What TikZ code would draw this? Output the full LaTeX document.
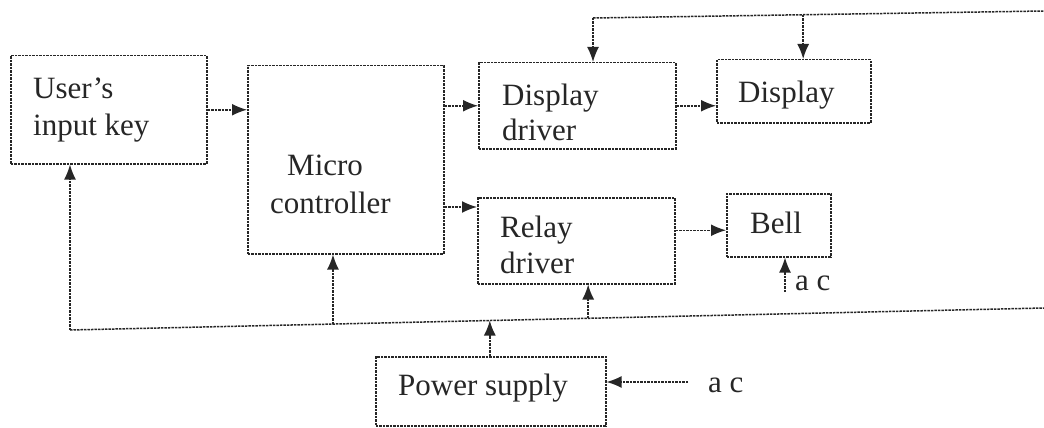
\documentclass[tikz,border=0pt]{standalone}
\usepackage{fontspec}
\setmainfont{Liberation Serif}
\usetikzlibrary{arrows.meta,calc}
\begin{document}
\begin{tikzpicture}[x=1pt,y=-1pt,
  box/.style={draw=black!85, line width=1.5pt, dash pattern=on 2.5pt off 1pt, rectangle, inner sep=0pt, anchor=north west},
  wire/.style={draw=black!85, line width=1.5pt, dash pattern=on 2.5pt off 1pt},
  arr/.style={wire, -{Latex[length=15pt,width=12pt]}},
  txt/.style={anchor=base west, inner sep=0pt, text=black!85, font=\fontsize{31}{37}\selectfont}]
\useasboundingbox (0,0) rectangle (1044,428);
% boxes
\node[box, minimum width=196pt, minimum height=108pt] (uik) at (10,55) {};
\node[box, minimum width=196pt, minimum height=188pt] (mc) at (247,65) {};
\node[box, minimum width=197pt, minimum height=86pt] (dd) at (478,62) {};
\node[box, minimum width=154pt, minimum height=63pt] (dsp) at (716,59) {};
\node[box, minimum width=197pt, minimum height=86pt] (rd) at (477,197) {};
\node[box, minimum width=104pt, minimum height=63pt] (bell) at (726,193) {};
\node[box, minimum width=230pt, minimum height=69pt] (ps) at (375,356) {};
% texts
\node[txt] (t1) at (33,98) {User’s};
\node[txt] (t2) at (33,135) {input key};
\node[txt] (t3) at (287,175) {Micro};
\node[txt] (t4) at (270,213) {controller};
\node[txt] (t5) at (502,105) {Display};
\node[txt] (t6) at (502,140) {driver};
\node[txt] (t7) at (738,102) {Display};
\node[txt] (t8) at (500,237) {Relay};
\node[txt] (t9) at (500,273) {driver};
\node[txt] (t10) at (750,233) {Bell};
\node[txt] (t11) at (398,395) {Power supply};
\node[txt] (ac1) at (795,290) {a c};
\node[txt] (ac2) at (708,392) {a c};
% horizontal connectors
\draw[arr] (uik.east) -- (uik.east -| mc.west);
\draw[arr] (dd.west -| mc.east) -- (dd.west);
\coordinate (rin) at ($(rd.north west)+(0,10)$);
\draw[arr] (rin -| mc.east) -- (rin);
\draw[arr] (dd.east) -- (dd.east -| dsp.west);
\coordinate (bin) at ($(bell.west)+(0,5)$);
\draw[arr] (bin -| rd.east) -- (bin);
% top line
\coordinate (tl) at (593,18);
\coordinate (tr) at (1044,11);
\coordinate (tm) at ($(tl)!0.466!(tr)$);
\draw[wire] (tl) -- (tr);
\draw[arr] (tl) -- (tl |- dd.north);
\draw[arr] (tm) -- (tm |- dsp.north);
% bus
\coordinate (bl) at (70,330);
\coordinate (br) at (1044,308);
\coordinate (j1) at ($(bl)!0.270!(br)$);
\coordinate (j2) at ($(bl)!0.431!(br)$);
\coordinate (j3) at ($(bl)!0.532!(br)$);
\draw[wire] (bl) -- (br);
\draw[arr] (bl) -- (bl |- uik.south);
\draw[arr] (j1) -- (j1 |- mc.south);
\draw[arr] (j3) -- (j3 |- rd.south);
\draw[arr] (j2 |- ps.north) -- (j2);
% a c inputs
\coordinate (bac) at (785,292);
\draw[arr] (bac) -- (bac |- bell.south);
\coordinate (pac) at (688,382);
\draw[arr] (pac) -- (pac -| ps.east);
\end{tikzpicture}
\end{document}
